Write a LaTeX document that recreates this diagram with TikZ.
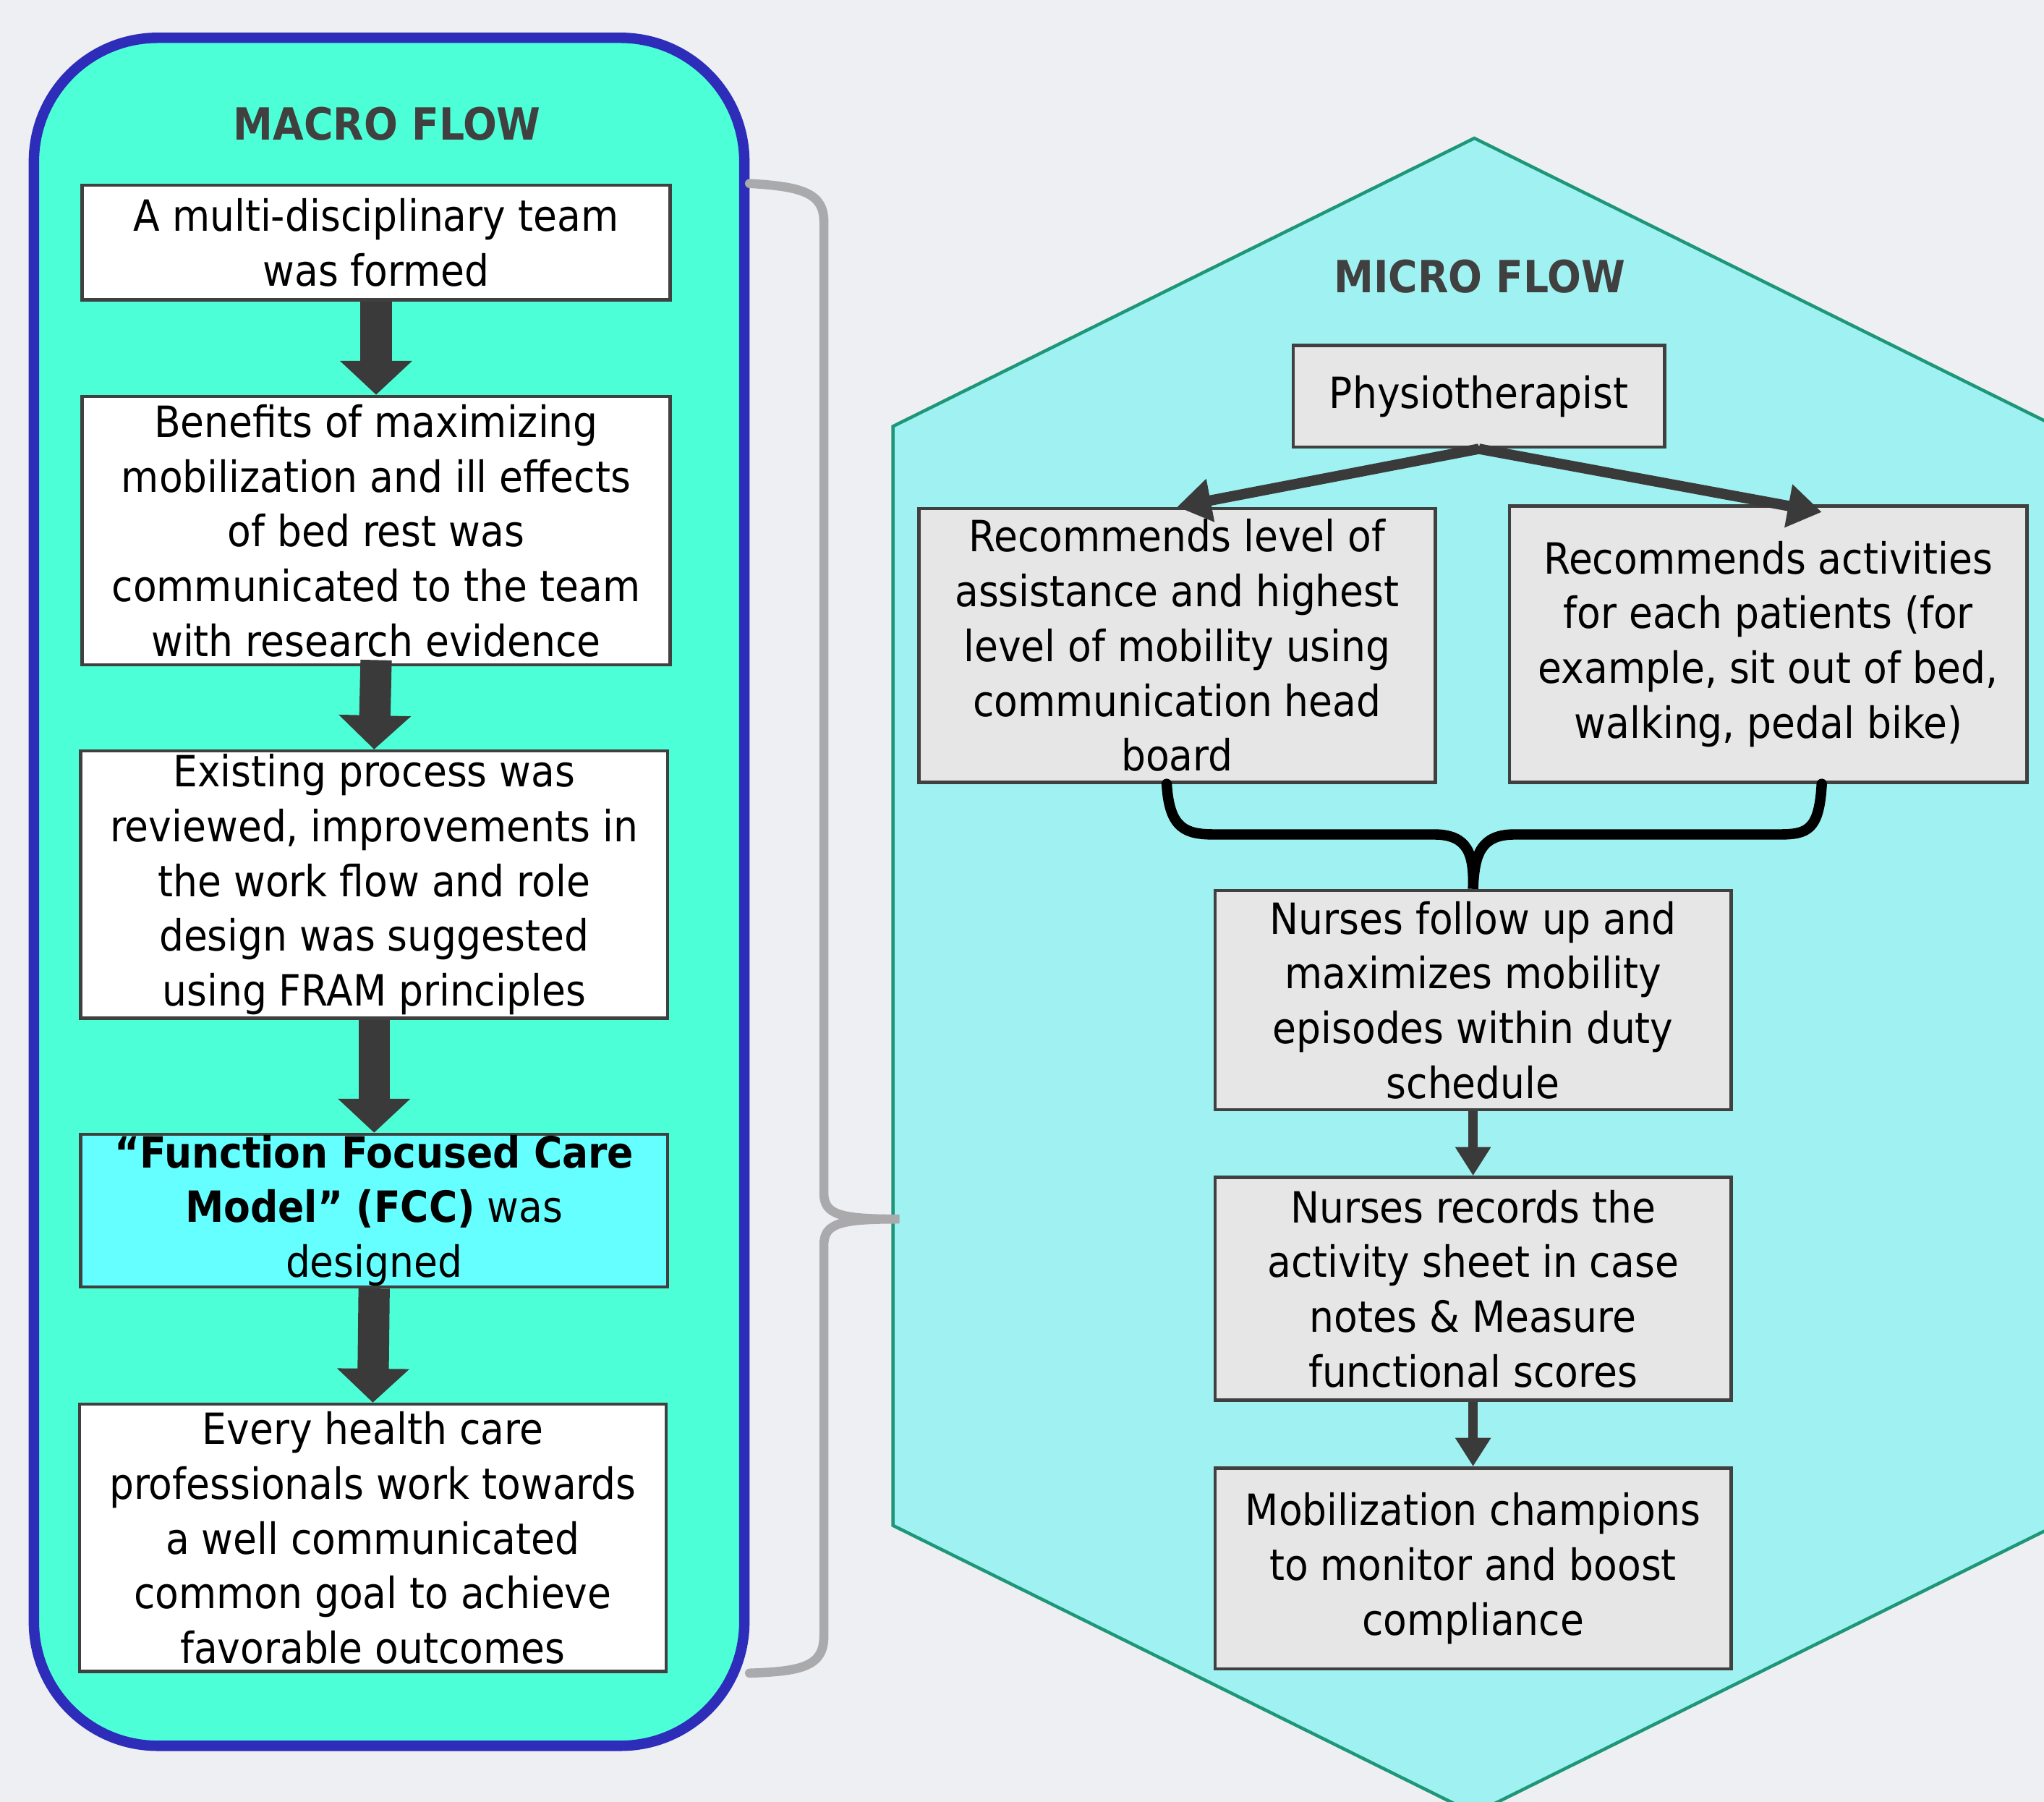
\documentclass[tikz,border=0pt]{standalone}
\usepackage{fontspec}
\setmainfont{DejaVu Sans Condensed}
\usetikzlibrary{arrows.meta,calc}
\definecolor{bgcol}{RGB}{238,239,242}
\definecolor{macrofill}{RGB}{77,255,214}
\definecolor{macroline}{RGB}{45,45,185}
\definecolor{hexfill}{RGB}{160,242,242}
\definecolor{hexline}{RGB}{30,150,120}
\definecolor{boxline}{RGB}{64,64,64}
\definecolor{boxgray}{RGB}{230,230,230}
\definecolor{fccfill}{RGB}{102,255,255}
\definecolor{arrowcol}{RGB}{58,58,58}
\definecolor{bracegray}{RGB}{170,170,172}
\definecolor{titlecol}{RGB}{64,64,64}

\begin{document}
\begin{tikzpicture}[x=1pt,y=-1pt]
\tikzstyle{macrobox}=[rectangle,draw=boxline,line width=2.5pt,fill=white,inner sep=0pt,align=center,font=\fontsize{33}{42}\selectfont]
\tikzstyle{microbox}=[macrobox,fill=boxgray,minimum width=396pt]
\tikzstyle{flowtitle}=[font=\fontsize{34}{40}\selectfont\bfseries,text=titlecol]
\tikzstyle{bigarrow}=[line width=24pt,arrowcol,-{Triangle[length=26pt,width=54pt]}]
\tikzstyle{midarrow}=[line width=8pt,arrowcol,-{Triangle[length=26pt,width=32pt]}]
\tikzstyle{smallarrow}=[line width=7pt,arrowcol,-{Triangle[length=22pt,width=26pt]}]
\tikzstyle{graybrace}=[line width=7pt,bracegray,line cap=round]
\tikzstyle{blackbrace}=[line width=8pt,black,line cap=round]
\useasboundingbox (0,0) rectangle (1568,1382);
\clip (0,0) rectangle (1568,1382);
\fill[bgcol] (0,0) rectangle (1568,1382);
\filldraw[fill=hexfill,draw=hexline,line width=2.5pt] (1131,106) -- (1577,327) -- (1577,1170) -- (1131,1391) -- (685,1170) -- (685,327) -- cycle;
\coordinate (hexW) at (690,935);
\node[draw=macroline,fill=macrofill,line width=8pt,rounded corners=95pt,minimum width=545pt,minimum height=1310pt] (macro) at (298.5,684) {};
\node[flowtitle] (macrotitle) at (297,95) {MACRO FLOW};
\node[macrobox,minimum width=451pt,minimum height=88pt] (m1) at (288.5,186) {A multi-disciplinary team\\was formed};
\node[macrobox,minimum width=451pt,minimum height=206pt] (m2) at (288.5,407) {Benefits of maximizing\\mobilization and ill effects\\of bed rest was\\communicated to the team\\with research evidence};
\node[macrobox,minimum width=450pt,minimum height=205pt] (m3) at (287,678.5) {Existing process was\\reviewed, improvements in\\the work flow and role\\design was suggested\\using FRAM principles};
\node[macrobox,fill=fccfill,minimum width=450pt,minimum height=117pt] (m4) at (287,928.5) {\textbf{“Function Focused Care}\\\textbf{Model” (FCC)} was\\designed};
\node[macrobox,minimum width=450pt,minimum height=205pt] (m5) at (286,1179.5) {Every health care\\professionals work towards\\a well communicated\\common goal to achieve\\favorable outcomes};
\draw[bigarrow] (m1.south) -- (m2.north);
\draw[bigarrow] ($(m2.south)+(0,-5)$) -- (m3.north);
\draw[bigarrow] (m3.south) -- (m4.north);
\draw[bigarrow] (m4.south) -- (m5.north);
\draw[graybrace] (macro.east |- m1.north) .. controls (615,143) and (632,148) .. (632,170) -- (632,915) .. controls (632,932) and (645,935) .. (hexW) .. controls (645,935) and (632,938) .. (632,955) -- (632,1255) .. controls (632,1278) and (615,1282) .. (macro.east |- m5.south);
\node[flowtitle] (microtitle) at (1135,212) {MICRO FLOW};
\node[macrobox,fill=boxgray,minimum width=285pt,minimum height=78pt] (phys) at (1134.5,304) {Physiotherapist};
\node[microbox,minimum height=210pt] (recL) at (903,495) {Recommends level of\\assistance and highest\\level of mobility using\\communication head\\board};
\node[microbox,minimum width=397pt,minimum height=212pt] (recR) at (1356.5,494) {Recommends activities\\for each patients (for\\example, sit out of bed,\\walking, pedal bike)};
\node[microbox,minimum height=168pt] (nurse1) at (1130,767) {Nurses follow up and\\maximizes mobility\\episodes within duty\\schedule};
\node[microbox,minimum height=171pt] (nurse2) at (1130,988.5) {Nurses records the\\activity sheet in case\\notes \& Measure\\functional scores};
\node[microbox,minimum height=154pt] (mob) at (1130,1203) {Mobilization champions\\to monitor and boost\\compliance};
\draw[midarrow] (phys.south) -- (recL.north);
\draw[midarrow] (phys.south) -- ($(recR.north)+(41,6)$);
\draw[blackbrace] ($(recL.south)+(-8,0)$) .. controls +(2,35) and +(-22,0) .. (932,640) -- (1100,640) .. controls (1126,640) and (1131,655) .. (nurse1.north) .. controls (1131,655) and (1136,640) .. (1162,640) -- (1365,640) .. controls +(22,0) and +(-2,35) .. ($(recR.south)+(41,0)$);
\draw[smallarrow] (nurse1.south) -- (nurse2.north);
\draw[smallarrow] (nurse2.south) -- (mob.north);
\end{tikzpicture}
\end{document}
